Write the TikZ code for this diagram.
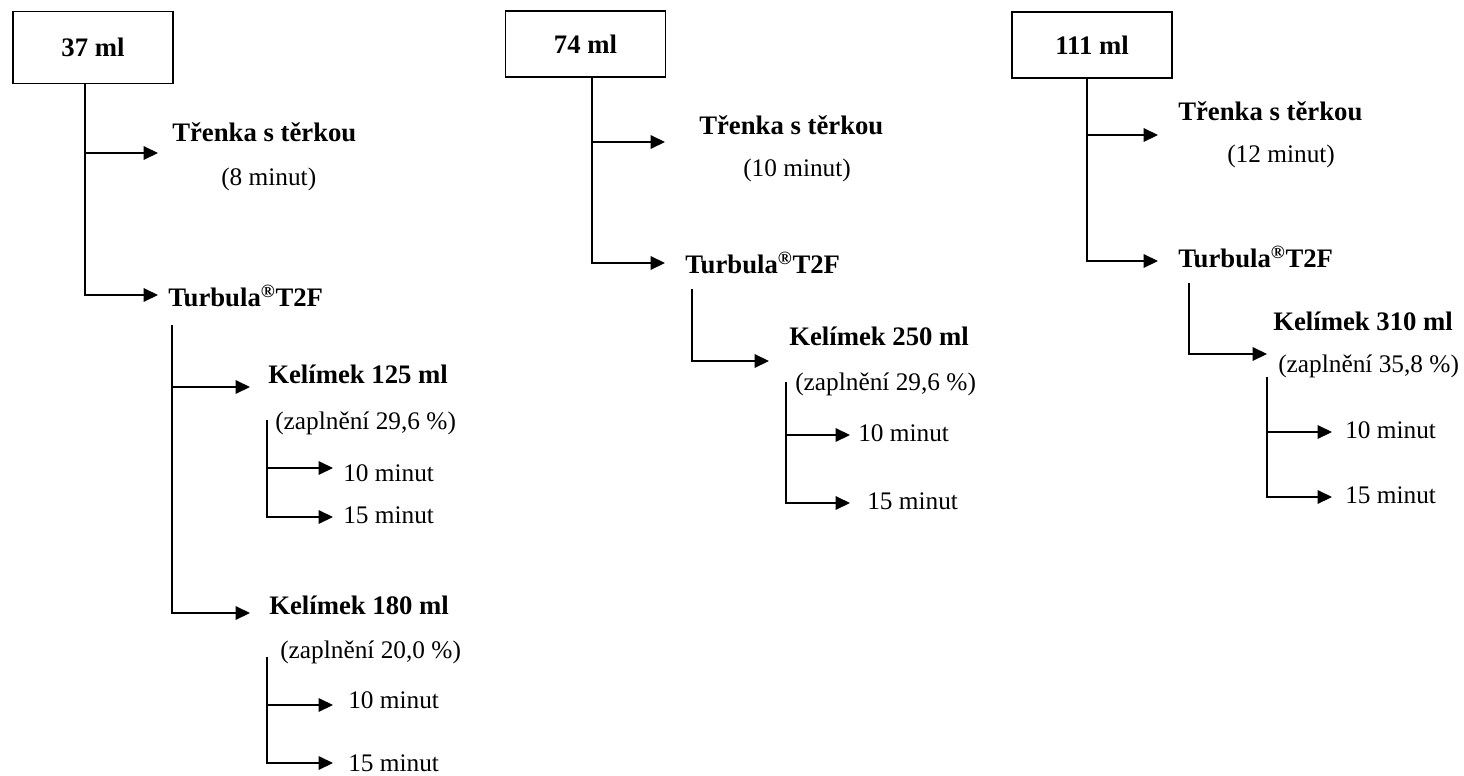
\documentclass[tikz,border=0pt]{standalone}
\usepackage{fontspec}
\setmainfont{Liberation Serif}
\usetikzlibrary{arrows.meta,positioning}
\tikzstyle{volume}=[rectangle,
                    draw,
                    line width=0.8pt,
                    minimum width=4cm,
                    minimum height=1.65cm,
                    font=\fontsize{19}{22}\selectfont\bfseries]
\tikzstyle{device}=[anchor=west, inner sep=0pt,
font=\fontsize{19}{22}\selectfont\bfseries]
\tikzstyle{note}=[anchor=west, inner sep=0pt,
font=\fontsize{18}{21}\selectfont]
\tikzstyle{line} = [draw, line width=0.8pt, -{Triangle[length=0.36cm,width=0.34cm]}]

\begin{document}
\begin{tikzpicture}[x=0.025cm,y=-0.025cm]
      \useasboundingbox (0,0) rectangle (1464,775);

      % 37 ml
      \node [volume, minimum height=1.78cm] (v37) at (93,47.5) {37 ml};
      \node [device] (tr37) at (172,132) {Třenka s těrkou};
      \node [note] (t37) at (221,179) {(8 minut)};
      \node [device] (tu37) at (168,296) {Turbula\textsuperscript{®}T2F};
      \node [device] (k125) at (268,374) {Kelímek 125 ml};
      \node [note] (z125) at (275,423) {(zaplnění 29,6 \%)};
      \node [note] (m125a) at (343,473) {10 minut};
      \node [note] (m125b) at (343,515) {15 minut};
      \node [device] (k180) at (269,605) {Kelímek 180 ml};
      \node [note] (z180) at (280,652) {(zaplnění 20,0 \%)};
      \node [note] (m180a) at (348,700) {10 minut};
      \node [note] (m180b) at (348,763) {15 minut};

      \coordinate (j37) at (85,83);
      \coordinate (e37a) at (158,153);
      \coordinate (e37b) at (158,295);
      \coordinate (jtu37) at (172,325);
      \coordinate (e125) at (250,387);
      \coordinate (e180) at (250,613);
      \coordinate (j125) at (267,420);
      \coordinate (e125a) at (333,468);
      \coordinate (e125b) at (333,517);
      \coordinate (j180) at (267,657);
      \coordinate (e180a) at (333,705);
      \coordinate (e180b) at (333,763);

      \path [line] (j37) |- (e37a);
      \path [line] (j37) |- (e37b);
      \path [line] (jtu37) |- (e125);
      \path [line] (jtu37) |- (e180);
      \path [line] (j125) |- (e125a);
      \path [line] (j125) |- (e125b);
      \path [line] (j180) |- (e180a);
      \path [line] (j180) |- (e180b);

      % 74 ml
      \node [volume] (v74) at (585.5,44) {74 ml};
      \node [device] (tr74) at (699,125) {Třenka s těrkou};
      \node [note] (t74) at (743,170) {(10 minut)};
      \node [device] (tu74) at (685,263) {Turbula\textsuperscript{®}T2F};
      \node [device] (k250) at (789,336) {Kelímek 250 ml};
      \node [note] (z250) at (795,384) {(zaplnění 29,6 \%)};
      \node [note] (m250a) at (858,433) {10 minut};
      \node [note] (m250b) at (867,501) {15 minut};

      \coordinate (j74) at (592,77);
      \coordinate (e74a) at (665,142);
      \coordinate (e74b) at (665,263);
      \coordinate (jtu74) at (692,289);
      \coordinate (e250) at (769,361);
      \coordinate (j250) at (786,382);
      \coordinate (e250a) at (850,435);
      \coordinate (e250b) at (850,503);

      \path [line] (j74) |- (e74a);
      \path [line] (j74) |- (e74b);
      \path [line] (jtu74) |- (e250);
      \path [line] (j250) |- (e250a);
      \path [line] (j250) |- (e250b);

      % 111 ml
      \node [volume] (v111) at (1092,45) {111 ml};
      \node [device] (tr111) at (1178,111) {Třenka s těrkou};
      \node [note] (t111) at (1227,156) {(12 minut)};
      \node [device] (tu111) at (1178,257) {Turbula\textsuperscript{®}T2F};
      \node [device] (k310) at (1273,321) {Kelímek 310 ml};
      \node [note] (z310) at (1278,366) {(zaplnění 35,8 \%)};
      \node [note] (m310a) at (1345,430) {10 minut};
      \node [note] (m310b) at (1345,495) {15 minut};

      \coordinate (j111) at (1087,78);
      \coordinate (e111a) at (1158,135);
      \coordinate (e111b) at (1158,261);
      \coordinate (jtu111) at (1189,283);
      \coordinate (e310) at (1267,354);
      \coordinate (j310) at (1267,377);
      \coordinate (e310a) at (1332,432);
      \coordinate (e310b) at (1332,497);

      \path [line] (j111) |- (e111a);
      \path [line] (j111) |- (e111b);
      \path [line] (jtu111) |- (e310);
      \path [line] (j310) |- (e310a);
      \path [line] (j310) |- (e310b);
\end{tikzpicture}
\end{document}
